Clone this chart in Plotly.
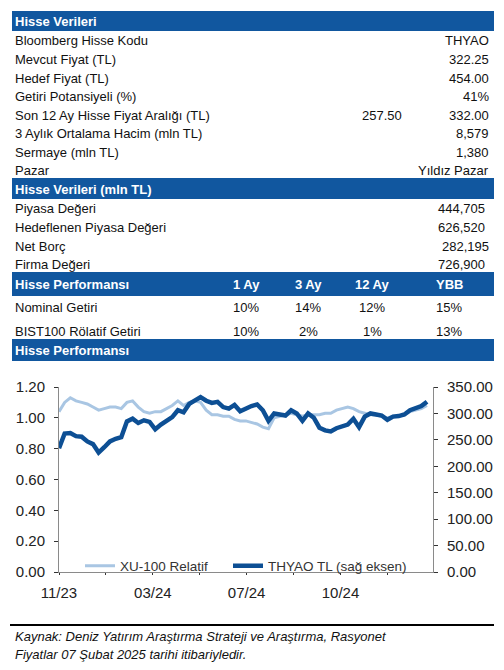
import plotly.graph_objects as go
import pandas as pd

# --- table data ---
stock_labels = ["Bloomberg Hisse Kodu", "Mevcut Fiyat (TL)", "Hedef Fiyat (TL)",
                "Getiri Potansiyeli (%)", "Son 12 Ay Hisse Fiyat Aralığı (TL)",
                "3 Aylık Ortalama Hacim (mln TL)", "Sermaye (mln TL)", "Pazar"]
stock_values = ["THYAO", "322.25", "454.00", "41%", "332.00", "8,579", "1,380", "Yıldız Pazar"]
range_low = "257.50"

mcap_labels = ["Piyasa Değeri", "Hedeflenen Piyasa Değeri", "Net Borç", "Firma Değeri"]
mcap_values = ["444,705", "626,520", "282,195", "726,900"]

perf_cols = ["1 Ay", "3 Ay", "12 Ay", "YBB"]
perf_rows = ["Nominal Getiri", "BIST100 Rölatif Getiri"]
perf_values = [["10%", "14%", "12%", "15%"],
               ["10%", "2%", "1%", "13%"]]

section_titles = ["Hisse Verileri", "Hisse Verileri (mln TL)", "Hisse Performansı", "Hisse Performansı"]

# --- chart data (weekly) ---
dates = pd.date_range("2023-11-10", "2025-02-07", freq="7D")
xu100_rel = [1.04, 1.10, 1.13, 1.11, 1.10, 1.09, 1.07, 1.05, 1.06, 1.07,
             1.07, 1.06, 1.10, 1.11, 1.07, 1.04, 1.03, 1.04, 1.04, 1.06,
             1.08, 1.11, 1.08, 1.10, 1.11, 1.10, 1.05, 1.02, 1.02, 1.01,
             1.01, 0.99, 0.98, 0.98, 0.97, 0.96, 0.94, 0.93, 1.00, 1.01,
             1.02, 1.03, 1.02, 1.01, 1.02, 1.02, 1.02, 1.03, 1.03, 1.05,
             1.06, 1.07, 1.06, 1.04, 1.03, 1.02, 1.02, 1.01, 1.00, 1.01,
             1.01, 1.02, 1.04, 1.05, 1.06, 1.08]
thyao = [234, 262, 263, 257, 256, 247, 242, 226, 236, 247,
         252, 255, 285, 290, 282, 287, 284, 270, 279, 286,
         293, 306, 302, 318, 325, 331, 324, 320, 322, 312,
         309, 316, 304, 310, 314, 317, 306, 286, 300, 298,
         296, 306, 300, 286, 300, 292, 273, 268, 266, 272,
         276, 279, 290, 274, 294, 300, 298, 296, 288, 294,
         295, 298, 306, 311, 314, 322.25]

tick_dates = ["2023-11-10", "2024-01-07", "2024-03-05", "2024-05-02",
              "2024-06-29", "2024-08-26", "2024-10-23", "2024-12-20"]
tick_text = ["11/23", "", "03/24", "", "07/24", "", "10/24", ""]

# page has an 8px body margin, so the figure is 8px smaller on each side
OFF = 8
W, H = 504 - OFF, 670 - OFF
BLUE = "#11579f"
FONT = "Liberation Sans"


def px(x):
    return (x - OFF) / W


def py(y):
    return 1 - (y - OFF) / H


annotations = []


def txt(x, y, text, anchor="left", size=13, color="#111111"):
    annotations.append(dict(x=px(x), y=py(y), xref="paper", yref="paper", text=text,
                            showarrow=False, xanchor=anchor, yanchor="middle",
                            font=dict(family=FONT, size=size, color=color)))


shapes = []
for top, bottom in [(11, 31), (178, 199), (272, 296), (339, 361)]:
    shapes.append(dict(type="rect", xref="paper", yref="paper", x0=px(12), x1=px(494),
                       y0=py(bottom), y1=py(top), fillcolor=BLUE, line=dict(width=0), layer="below"))
shapes.append(dict(type="line", xref="paper", yref="paper", x0=px(10), x1=px(494),
                   y0=py(625), y1=py(625), line=dict(color="#000000", width=2)))

# headers
for title, y in zip(section_titles, [21, 189, 284, 350]):
    txt(13, y, "<b>" + title + "</b>", size=13, color="white")

# table 1
for i, (lab, val) in enumerate(zip(stock_labels, stock_values)):
    y = 41 + 18.57 * i
    txt(13, y, lab)
    txt(491, y, val, anchor="right")
txt(404, 41 + 18.57 * 4, range_low, anchor="right")

# table 2
for i, (lab, val, xr) in enumerate(zip(mcap_labels, mcap_values, [487, 487, 491, 487])):
    y = 209 + 18.6 * i
    txt(13, y, lab)
    txt(xr, y, val, anchor="right")

# table 3
col_x = [246, 308, 372, 449]
for c, xc in zip(perf_cols, col_x):
    txt(xc, 284, "<b>" + c + "</b>", anchor="center", size=13, color="white")
for r, (lab, vals) in enumerate(zip(perf_rows, perf_values)):
    y = 307 + 24 * r
    txt(13, y, lab)
    for v, xc in zip(vals, col_x):
        txt(xc, y, v, anchor="center")

# footer
txt(13, 636, "<i>Kaynak: Deniz Yatırım Araştırma Strateji ve Araştırma, Rasyonet</i>", size=13)
txt(13, 654, "<i>Fiyatlar 07 Şubat 2025 tarihi itibariyledir.</i>", size=13)

fig = go.Figure()
fig.add_trace(go.Scatter(x=dates, y=xu100_rel, name="XU-100 Relatif", mode="lines",
                         line=dict(color="#a9c6e3", width=3), yaxis="y", legend="legend"))
fig.add_trace(go.Scatter(x=dates, y=thyao, name="THYAO TL (sağ eksen)", mode="lines",
                         line=dict(color="#0d4f94", width=4.5), yaxis="y2", legend="legend2"))

x_range = ["2023-11-10", "2025-02-14 10:00"]
axis_font = dict(family=FONT, size=15, color="#222222")
legend_font = dict(family=FONT, size=13.5, color="#333333")

fig.update_layout(
    width=W, height=H,
    margin=dict(l=0, r=0, t=0, b=0, autoexpand=False),
    paper_bgcolor="white", plot_bgcolor="white",
    showlegend=True,
    legend=dict(orientation="h", x=px(80), y=py(566), xanchor="left", yanchor="middle",
                bgcolor="rgba(0,0,0,0)", font=legend_font),
    legend2=dict(orientation="h", x=px(228), y=py(566), xanchor="left", yanchor="middle",
                 bgcolor="rgba(0,0,0,0)", font=legend_font),
    xaxis=dict(domain=[px(59), px(433)], anchor="y", type="date", range=x_range,
               tickmode="array", tickvals=tick_dates, ticktext=tick_text,
               ticks="outside", ticklen=2, tickcolor="#333333", showline=True,
               linecolor="#8a8a8a", showgrid=False, zeroline=False, tickfont=axis_font,
               ticklabelstandoff=5, automargin=False),
    xaxis2=dict(overlaying="x", anchor="y", type="date", range=x_range,
                tickmode="array", tickvals=tick_dates, ticks="inside", ticklen=4,
                tickcolor="#333333", showticklabels=False, showline=False,
                showgrid=False, zeroline=False, automargin=False),
    yaxis=dict(domain=[py(572), py(387)], anchor="x", range=[0, 1.2], dtick=0.2,
               tickformat=".2f", ticks="outside", ticklen=4, tickcolor="#333333",
               showline=True, linecolor="#8a8a8a", showgrid=False, zeroline=False,
               tickfont=axis_font, ticklabelstandoff=6, automargin=False),
    yaxis2=dict(overlaying="y", anchor="x", side="right", range=[0, 350], dtick=50,
                tickformat=".2f", ticks="outside", ticklen=4, tickcolor="#333333",
                showline=True, linecolor="#8a8a8a", showgrid=False, zeroline=False,
                tickfont=axis_font, ticklabelstandoff=6, automargin=False),
    yaxis3=dict(overlaying="y", anchor="x", side="left", range=[0, 1.2], dtick=0.2,
                ticks="inside", ticklen=4, tickcolor="#333333", showticklabels=False,
                showline=False, showgrid=False, zeroline=False, automargin=False),
    yaxis4=dict(overlaying="y", anchor="x", side="right", range=[0, 350], dtick=50,
                ticks="inside", ticklen=4, tickcolor="#333333", showticklabels=False,
                showline=False, showgrid=False, zeroline=False, automargin=False),
    shapes=shapes,
    annotations=annotations,
)

fig.write_html("out.html")
